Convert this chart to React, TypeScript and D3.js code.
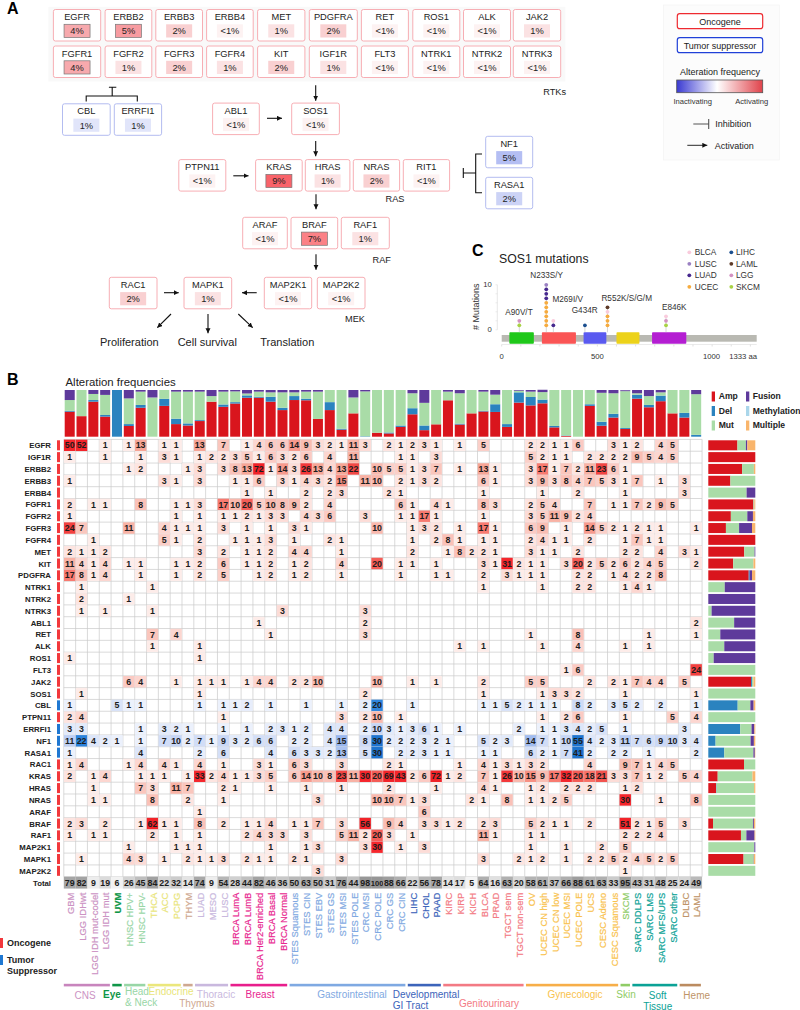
import React from 'react';
import * as d3 from 'd3';

// ---------- Panel B data ----------
const cancers = ['GBM','LGG IDHwt','LGG IDH mut-codel','LGG IDH mut','UVM','HNSC HPV+','HNSC HPV-','THCA','ACC','PCPG','THYM','LUAD','MESO','LUSC','BRCA LumA','BRCA LumB','BRCA Her2-enriched','BRCA Basal','BRCA Normal','STES Squamous','STES CIN','STES EBV','STES GS','STES MSI','STES POLE','CRC MSI','CRC POLE','CRC GS','CRC CIN','LIHC','CHOL','PAAD','KIRC','KIRP','KICH','BLCA','PRAD','TGCT sem','TGCT non-sem','OV','UCEC CN high','UCEC CN low','UCEC MSI','UCEC POLE','UCS','CESC Adeno','CESC Squamous','SKCM','SARC DDLPS','SARC LMS','SARC MFS/UPS','SARC other','DLBC','LAML'];
const totals = [79,82,9,19,6,26,45,84,22,32,14,74,9,54,28,44,82,46,36,50,63,50,31,76,44,98,100,88,66,22,56,78,14,17,5,64,16,63,20,58,61,37,66,88,61,63,33,95,43,31,48,25,24,49];

const topAmp = [.535,.44,.75,.43,0,.23,.62,0,.66,.27,.24,.335,.75,.64,.71,.835,.835,.75,.57,.785,.78,.38,.57,.15,.5,0,.085,.07,.21,.48,.14,.265,.78,.26,.5,.54,.53,.21,.73,.67,.715,.2,.015,0,.66,.235,.41,.165,.815,.63,.76,.5,.41,0];
const topDel = [.02,0,.035,.035,1,.04,.06,0,.15,.115,.045,.02,0,.05,.03,.05,.02,.105,.05,.085,.035,0,.17,.02,0,.01,0,.02,.03,.13,.1,0,0,.02,0,.015,.165,.06,.22,.18,.08,.03,.01,0,.035,.085,.08,.02,.085,.05,.12,0,.1,.04];
const topMut = [.23,.56,.13,.43,0,.55,.285,.84,.19,.58,.68,.61,.12,.275,.23,.04,.11,.095,.33,.08,.15,.585,.26,.83,.34,.96,.915,.91,.76,.32,.485,.735,.185,.65,.5,.41,.205,.73,.035,.115,.16,.77,.975,1,.305,.62,.44,.79,.03,.19,.07,.5,.49,.87];
const topFus = [.215,0,.085,.105,0,.18,.035,.16,0,.035,.035,.035,.13,.035,.03,.075,.035,.05,.05,.05,.035,.035,0,0,.16,.03,0,0,0,.07,.275,0,.035,.07,0,.035,.1,0,.015,.035,.05,0,0,0,0,.06,.07,.02,.07,.13,.05,0,0,.09];

const genes = ['EGFR','IGF1R','ERBB2','ERBB3','ERBB4','FGFR1','FGFR2','FGFR3','FGFR4','MET','KIT','PDGFRA','NTRK1','NTRK2','NTRK3','ABL1','RET','ALK','ROS1','FLT3','JAK2','SOS1','CBL','PTPN11','ERRFI1','NF1','RASA1','RAC1','KRAS','HRAS','NRAS','ARAF','BRAF','RAF1','MAP2K1','MAPK1','MAP2K2'];
const suppressors = ['CBL','ERRFI1','NF1','RASA1'];

// column,count pairs per gene
const EGFR=[0,50,1,52,3,1,5,1,6,13,8,1,9,1,11,13,13,7,15,1,16,4,17,6,18,6,19,14,20,9,21,3,22,2,23,1,24,11,25,3,27,2,28,1,29,2,30,3,31,1,33,1,35,5,39,2,40,2,41,1,42,1,43,6,46,3,47,1,48,2,50,4,51,5];
const IGF1R=[0,1,3,1,6,1,8,3,9,1,11,1,12,2,13,2,14,3,15,5,16,1,17,6,18,3,19,2,20,6,22,4,24,11,28,1,29,1,31,3,39,5,40,2,41,1,42,1,44,2,45,2,46,2,47,2,48,9,49,5,50,4,51,5];
const ERBB2=[5,1,6,2,10,1,11,3,13,3,14,8,15,13,16,72,17,1,18,14,19,3,20,26,21,13,22,4,23,13,24,22,26,10,27,5,28,5,29,1,30,3,31,7,33,1,35,13,36,1,39,3,40,17,41,1,42,7,43,2,44,11,45,23,46,6,47,1];
const ERBB3=[0,1,8,3,9,1,11,3,14,1,15,1,16,6,18,3,19,1,20,4,21,3,22,2,23,15,25,11,26,10,28,2,29,1,30,3,31,2,35,6,36,1,39,3,40,9,41,3,42,8,43,4,44,7,45,5,46,3,47,1,48,7,50,1,52,3];
const ERBB4=[15,1,17,1,20,2,22,2,23,3,27,2,28,1,35,1,40,1,43,2,47,1,52,3];
const FGFR1=[0,2,2,1,3,1,6,8,9,1,10,1,11,3,13,17,14,10,15,20,16,5,17,10,18,8,19,9,20,2,22,4,28,6,29,1,31,4,32,1,35,8,36,3,39,2,40,5,41,4,44,7,46,1,47,1,48,7,49,2,50,9,51,5];
const FGFR2=[0,1,9,1,11,1,13,1,14,1,15,2,16,1,17,3,18,3,20,4,21,3,22,6,25,3,28,1,29,1,30,17,31,1,35,1,39,3,40,5,41,11,42,9,43,2,44,4];
const FGFR3=[0,24,1,7,5,11,8,4,9,1,10,1,11,1,13,3,15,1,17,1,19,3,20,1,26,10,29,1,30,3,31,2,33,1,35,17,36,1,39,6,40,9,42,1,44,14,45,5,46,2,47,1,48,2,49,1,50,1,53,1];
const FGFR4=[2,1,8,5,9,1,11,2,14,1,15,1,16,1,17,3,19,1,22,2,23,1,29,1,31,2,32,8,33,1,35,1,36,1,39,2,40,4,41,1,42,1,44,2,47,1,48,7,49,1,50,1];
const MET=[0,2,1,1,2,1,3,2,11,3,13,2,15,1,16,1,17,2,19,4,20,4,23,1,29,2,32,1,33,8,34,2,35,2,36,1,39,3,40,1,41,1,43,2,47,2,48,2,50,4,52,3,53,1];
const KIT=[0,11,1,4,2,1,3,4,5,1,6,1,9,1,10,1,11,2,13,6,15,1,16,1,17,2,19,1,20,2,23,4,26,20,28,1,29,1,31,1,35,3,36,1,37,31,38,2,39,1,40,1,42,3,43,20,44,2,45,5,46,2,47,6,48,2,49,4,50,5,53,2];
const PDGFRA=[0,17,1,8,2,1,3,4,6,1,9,1,11,2,13,5,16,1,17,2,19,1,20,2,23,1,28,1,31,1,32,1,35,2,37,3,38,1,39,1,40,1,43,2,44,2,46,1,47,4,48,2,49,2,50,8];
const NTRK1=[1,1,7,1,35,1,40,1,43,2,44,2,47,1,48,4,49,1];
const NTRK2=[1,2,5,1];
const NTRK3=[1,1,3,1,7,1,18,3,25,3];
const ABL1=[16,1,25,2,53,2];
const RET=[7,7,9,4,17,1,25,3,39,1,43,8,49,1,53,1];
const ALK=[7,1,11,1,33,1,35,1,40,1,43,4,47,1,49,1];
const ROS1=[0,1,11,1];
const FLT3=[42,1,43,6,53,24];
const JAK2=[5,6,6,4,9,1,11,1,12,1,13,1,15,1,16,4,17,4,19,2,20,2,21,10,26,10,29,1,31,1,35,2,39,5,40,5,44,2,46,2,47,1,48,7,49,4,50,4,52,5];
const SOS1=[1,1,11,1,25,2,35,1,40,1,41,3,42,3,43,2,47,1,53,1];
const CBL=[0,1,4,5,5,1,6,1,11,1,13,1,14,1,15,2,17,1,20,1,23,1,25,2,26,20,29,1,35,1,36,1,37,5,38,2,39,1,40,1,41,1,43,8,44,2,46,3,47,5,48,2,50,2,53,1];
const PTPN11=[0,2,1,4,13,1,23,3,25,2,26,10,28,1,40,1,42,2,43,6,47,1,51,5,53,4];
const ERRFI1=[0,3,1,3,6,1,8,3,9,2,10,1,13,1,15,1,17,2,18,3,19,1,20,2,22,4,23,4,25,2,26,10,27,3,28,1,29,3,30,6,31,1,33,1,38,2,40,1,41,1,42,3,43,4,44,2,45,5,47,1,52,3];
const NF1=[0,11,1,22,2,4,3,2,4,1,6,1,8,7,9,10,10,2,11,7,12,1,13,9,14,3,15,2,16,6,17,6,19,2,20,2,22,4,23,15,25,8,26,30,27,2,28,2,29,2,30,3,31,2,32,1,35,5,36,2,37,3,39,14,40,7,41,1,42,10,43,55,44,4,45,2,46,3,47,11,48,7,49,6,50,9,51,10,52,3,53,4];
const RASA1=[0,1,6,4,11,2,13,6,17,4,19,6,20,3,21,3,22,2,23,13,25,5,26,30,28,2,29,2,30,3,31,1,32,1,35,1,36,1,39,6,40,2,41,1,42,7,43,41,44,2,46,2,47,2,49,1,53,2];
const RAC1=[0,1,1,4,5,1,6,4,8,4,9,1,11,4,13,1,16,3,17,1,19,6,20,3,23,3,27,2,28,1,33,1,35,4,36,1,37,3,38,1,39,3,40,2,44,4,47,9,48,7,49,1,50,4,51,5];
const KRAS=[0,2,2,1,3,4,6,1,7,1,8,1,10,1,11,33,12,2,13,4,14,1,15,1,16,3,17,5,19,6,20,14,21,10,22,8,23,23,24,11,25,30,26,20,27,69,28,43,29,2,30,6,31,72,32,1,33,2,35,7,36,1,37,26,38,10,39,15,40,9,41,17,42,32,43,20,44,18,45,21,46,3,47,3,48,7,49,1,50,2,52,5,53,4];
const HRAS=[2,1,6,7,7,3,9,11,10,7,13,2,14,1,17,1,20,1,23,1,27,2,31,1,35,4,36,1,39,1,40,2,42,2,43,2,44,2,47,1,48,2];
const NRAS=[2,1,3,1,7,8,10,2,13,1,21,3,26,10,27,10,28,7,29,1,30,3,34,2,35,1,37,8,39,1,40,1,41,2,42,5,47,30,50,1,53,8];
const ARAF=[11,1,30,6];
const BRAF=[0,2,1,3,3,2,6,1,7,62,8,1,9,1,11,8,13,2,15,1,16,1,17,4,19,1,20,1,21,7,23,3,25,56,27,9,28,4,30,3,31,3,32,1,33,2,35,2,36,3,39,5,40,2,41,1,42,1,44,2,47,51,48,2,49,1,50,5,52,3];
const RAF1=[0,1,2,1,3,1,7,2,9,1,11,1,15,2,16,4,17,3,18,3,20,3,23,5,24,11,25,2,26,20,27,3,29,1,35,11,36,1,39,1,40,1,47,2,48,2,49,2,50,4];
const MAP2K1=[5,1,9,1,10,1,11,1,17,1,20,1,21,3,25,3,26,30,28,1,30,3,39,1,42,1,45,2,47,5];
const MAPK1=[1,1,5,4,6,3,8,1,10,2,11,1,12,1,13,3,15,2,16,1,17,1,19,2,20,1,23,3,35,3,38,2,39,1,40,2,42,1,44,2,45,2,46,5,47,2,48,4,49,5,50,2,51,5];
const MAP2K2=[21,3,47,1];
const geneRows: Record<string, number[]> = {EGFR,IGF1R,ERBB2,ERBB3,ERBB4,FGFR1,FGFR2,FGFR3,FGFR4,MET,KIT,PDGFRA,NTRK1,NTRK2,NTRK3,ABL1,RET,ALK,ROS1,FLT3,JAK2,SOS1,CBL,PTPN11,ERRFI1,NF1,RASA1,RAC1,KRAS,HRAS,NRAS,ARAF,BRAF,RAF1,MAP2K1,MAPK1,MAP2K2};

// right-hand stacked bars, in gene order
const rightAmp = [.62,1,.72,.47,0,.96,.48,.375,1,.765,.53,.86,0,0,0,0,0,0,0,0,.91,0,0,0,0,0,0,.76,.2,.165,0,0,.1,.695,0,.75,0];
const rightDel = [0,0,0,0,0,0,0,0,0,0,0,.02,0,0,0,0,0,0,0,0,.02,0,.625,0,.68,.155,.34,0,0,.01,0,0,0,0,0,0,0];
const rightMut = [.18,0,.25,.53,.815,.02,.35,.28,0,.22,.43,0,.35,0,.07,.55,.255,.34,.115,1,.03,1,.27,1,.24,.745,.62,.24,.74,.8,1,1,.85,.115,.98,.215,1];
const rightFus = [.03,0,0,0,.185,0,.12,.275,0,.015,0,.05,.65,1,.93,.45,.745,.66,.885,0,0,0,.07,0,.06,.07,.03,0,0,0,0,0,.02,.175,.02,.005,0];
const rightMul = [.17,0,.03,0,0,.02,.05,.07,0,0,.04,.07,0,0,0,0,0,0,0,0,.04,0,.035,0,.02,.03,.01,0,.06,.025,0,0,.03,.015,0,.03,0];

const groups = [
  {name:['CNS'],from:0,to:3,color:'#c885bd',label:'#cc93c4'},
  {name:['Eye'],from:4,to:4,color:'#0f9648',label:'#0f9648'},
  {name:['Head','& Neck'],from:5,to:6,color:'#98d6a6',label:'#98d6a6'},
  {name:['Endocrine'],from:7,to:9,color:'#ebe77c',label:'#e9e57a'},
  {name:['Thymus'],from:10,to:10,color:'#cfa890',label:'#cfa890'},
  {name:['Thoracic'],from:11,to:13,color:'#c9b8de',label:'#c9b8de'},
  {name:['Breast'],from:14,to:18,color:'#e81e8c',label:'#e8268f'},
  {name:['Gastrointestinal'],from:19,to:28,color:'#7fa9e2',label:'#7fa9e2'},
  {name:['Developmental','GI Tract'],from:29,to:31,color:'#3c64ba',label:'#3c64ba'},
  {name:['Genitourinary'],from:32,to:38,color:'#f37a84',label:'#f37a84'},
  {name:['Gynecologic'],from:39,to:46,color:'#f7ae48',label:'#f9c24c'},
  {name:['Skin'],from:47,to:47,color:'#8fcc66',label:'#8fcc66'},
  {name:['Soft','Tissue'],from:48,to:51,color:'#0ba296',label:'#0ba296'},
  {name:['Heme'],from:52,to:53,color:'#bb8b60',label:'#c09468'},
];
const groupLabelX = [85,112,125,171,197,216,260,352,392.7,489,575,626,657.7,696.7];
const groupLabelY = [[999],[997.5],[995,1006],[995],[1006.5],[997.5],[997.5],[997.5],[997.5,1008.5],[1007],[997.5],[997.5],[999,1010],[999]];

// ---------- Panel A data ----------
const pathwayPct: [string,string,number][] = [
 ['EGFR','4%',4],['ERBB2','5%',5],['ERBB3','2%',2],['ERBB4','<1%',.5],['MET','1%',1],['PDGFRA','2%',2],['RET','<1%',.5],['ROS1','<1%',.5],['ALK','<1%',.5],['JAK2','1%',1],
 ['FGFR1','4%',4],['FGFR2','1%',1],['FGFR3','2%',2],['FGFR4','1%',1],['KIT','2%',2],['IGF1R','1%',1],['FLT3','<1%',.5],['NTRK1','<1%',.5],['NTRK2','<1%',.5],['NTRK3','<1%',.5],
 ['CBL','1%',1],['ERRFI1','1%',1],['ABL1','<1%',.5],['SOS1','<1%',.5],['PTPN11','<1%',.5],['KRAS','9%',9],['HRAS','1%',1],['NRAS','2%',2],['RIT1','<1%',.5],['NF1','5%',5],['RASA1','2%',2],
 ['ARAF','<1%',.5],['BRAF','7%',7],['RAF1','1%',1],['RAC1','2%',2],['MAPK1','1%',1],['MAP2K1','<1%',.5],['MAP2K2','<1%',.5],
];
const boxLayout: Record<string,number[]> = {
 EGFR:[53.4,100.7,9.5],ERBB2:[105.1,151.8,9.5],ERBB3:[155.8,202.5,9.5],ERBB4:[206.6,253.2,9.5],MET:[257.6,304.9,9.5],PDGFRA:[309.3,357.3,9.5],RET:[361.4,408.4,9.5],ROS1:[412.8,459.8,9.5],ALK:[463.5,510.5,9.5],JAK2:[513.3,560.7,9.5],
 FGFR1:[53.4,100.7,46],FGFR2:[105.1,151.8,46],FGFR3:[155.8,202.5,46],FGFR4:[206.6,253.2,46],KIT:[257.6,304.9,46],IGF1R:[309.3,357.3,46],FLT3:[361.4,408.4,46],NTRK1:[412.8,459.8,46],NTRK2:[463.5,510.5,46],NTRK3:[513.3,560.7,46],
 CBL:[62.5,110.2,103.8],ERRFI1:[114.3,161.6,103.8],ABL1:[212.6,259.3,103.1],SOS1:[291.7,339.4,103.1],
 PTPN11:[178.8,225.8,159.6],KRAS:[255.6,302.2,159.6],HRAS:[305.3,349.9,159.6],NRAS:[353.3,399.6,159.6],RIT1:[403.3,449.6,159.6],
 NF1:[485.7,532.7,136.3],RASA1:[485.7,532.7,177.3],
 ARAF:[242.7,287.3,217.3],BRAF:[291,337.7,217.3],RAF1:[341.3,389.3,217.3],
 RAC1:[109.3,157,277.3],MAPK1:[184,231.7,277.3],MAP2K1:[264.3,311.7,277.3],MAP2K2:[317.3,365,277.3],
};
const arrows = [[315.7,85.2,315.7,100.7],[315.7,141,315.7,156.2],[267,118.3,282,118.3],[233.3,175.8,248.5,175.8],[316,194.3,316,209.3],[316,254.3,316,269.7],[164,292.7,178.7,292.7],[256.7,292.7,242,292.7],[171,314,157.3,327.7],[208,314,208,333.3],[238.3,314,252.7,327.7]];
const pathwayNotes: [string,number,number,number][] = [['RTKs',554.7,92,9.2],['RAS',395,199,9.2],['RAF',381.7,259.3,9.2],['MEK',355,318.7,9.2],['Proliferation',129.3,342.3,11],['Cell survival',207.3,342.3,11],['Translation',287.3,342.3,11]];

// ---------- Panel C data ----------
const domains: [number,number,string][] = [[40,168,'#1fc81a'],[210,388,'#fa5555'],[428,547,'#5a5af0'],[600,720,'#ecd21a'],[786,965,'#b41ed2']];
const lolliCancers: Record<string,string> = {BLCA:'#f9cbdc',LUSC:'#9a80c2',LUAD:'#46288e',UCEC:'#f6ab3e',LIHC:'#1b4f8f',LAML:'#5d3a28',LGG:'#d392c2',SKCM:'#a9d244'};
const lollipops: {aa:number,label:string,lx:number,ly:number,stack:string[]}[] = [
 {aa:92,label:'A90V/T',lx:519,ly:311.7,stack:['SKCM','LGG']},
 {aa:233,label:'N233S/Y',lx:546.7,ly:275.3,stack:['UCEC','UCEC','UCEC','UCEC','UCEC','UCEC','LUAD','LUAD','LUAD','LUSC']},
 {aa:270,label:'M269I/V',lx:567.7,ly:299,stack:['LUAD','BLCA']},
 {aa:435,label:'G434R',lx:584.7,ly:310.3,stack:['LIHC']},
 {aa:553,label:'R552K/S/G/M',lx:626.7,ly:298,stack:['UCEC','UCEC','UCEC','BLCA','LAML']},
 {aa:859,label:'E846K',lx:674.3,ly:307.3,stack:['SKCM','LGG','BLCA']},
];
const lolliLegendL = ['BLCA','LUSC','LUAD','UCEC'];
const lolliLegendR = ['LIHC','LAML','LGG','SKCM'];
const aaTicks: [number,string,number][] = [[0,'0',0],[500,'500',0],[1000,'1000',18.5],[1333,'1333 aa',-13.5]];

// ---------- Scales and styles ----------
const FONT = "'Liberation Sans', Arial, sans-serif";
const CELL = 11.82;
const x0 = 63.8;
const colX = d3.scaleLinear().domain([0, 54]).range([x0, x0 + CELL * 54]);
const rowY = d3.scaleLinear().domain([0, 38]).range([439.4, 439.4 + CELL * 38]);
const topY = d3.scaleLinear().domain([0, 1]).range([436.7, 390]);
const rightX = d3.scaleLinear().domain([0, 1]).range([708.3, 755.3]);
const redScale = d3.scaleLinear<string>().domain([1,3,5,10,13,17,22,30,100]).range(['#fdece9','#fcdcd7','#fbcfc8','#f9b8ad','#f6a596','#f87a70','#f14845','#f5262c','#ee2026']);
const blueScale = d3.scaleLinear<string>().domain([1,5,10,15,20,30,100]).range(['#ecf1fc','#d8e2f8','#c6d5f5','#98b6ee','#2f86de','#1e74cf','#1e74cf']);
const totalScale = d3.scaleLinear<string>().domain([5,20,50,100]).range(['#f4f4f4','#d9d9d9','#b9b9b9','#969696']);
const redPct = d3.scaleLinear<string>().domain([.5,1,2,4,5,7,9]).range(['#fdf2f2','#fbe2e3','#f9d0d1','#f7a9ad','#f79ba0','#fb8186','#f9636a']);
const bluePct = d3.scaleLinear<string>().domain([1,2,5]).range(['#e1e5fa','#ccd3f6','#b4bef3']);
const segColors = {amp:'#d9151d',del:'#2b83bf',mut:'#a9dca7',fus:'#5e3a9b',mul:'#f9b56c',meth:'#aad6ea'};
const topKeys = ['amp','del','mut','fus'];
const topStack = d3.stack().keys(topKeys)(cancers.map((_, i) => ({amp:topAmp[i],del:topDel[i],mut:topMut[i],fus:topFus[i]})) as any);
const rightKeys = ['amp','del','mut','fus','mul'];
const rightStack = d3.stack().keys(rightKeys)(genes.map((_, i) => ({amp:rightAmp[i],del:rightDel[i],mut:rightMut[i],fus:rightFus[i],mul:rightMul[i]})) as any);
const lolliX = d3.scaleLinear().domain([0, 1333]).range([501.7, 756.7]);
const lolliY = d3.scaleLinear().domain([0, 10]).range([329.8, 284.8]);
const pctByName = new Map(pathwayPct.map(p => [p[0], p]));
const blueBoxes = ['CBL','ERRFI1','NF1','RASA1'];

function Box({name}: {name: string}) {
  const [a, b, y] = boxLayout[name];
  const p = pctByName.get(name)!;
  const blue = blueBoxes.includes(name);
  const cx = (a + b) / 2;
  const strong = !blue && p[2] >= 4;
  return (
    <g fontFamily={FONT} fontSize={9.3} fill="#222" textAnchor="middle">
      <rect x={a} y={y} width={b - a} height={31.5} rx={2} fill="#fff" stroke={blue ? '#aab4ee' : '#f6a5ab'} strokeWidth={0.9} />
      <text x={cx} y={y + 10.6}>{name}</text>
      <rect x={cx - 13} y={y + 14.8} width={26} height={13.2} fill={blue ? bluePct(p[2]) : redPct(p[2])} stroke={strong ? '#777' : 'none'} strokeWidth={0.7} />
      <text x={cx} y={y + 24.8}>{p[1]}</text>
    </g>
  );
}

export default function App() {
  const labelText = (t: string, x: number, y: number, size: number, extra: any = {}) => (
    <text key={t + x + y} x={x} y={y} fontSize={size} fontFamily={FONT} fill="#222" {...extra}>{t}</text>
  );
  return (
    <svg width={800} height={1010} viewBox="0 0 800 1010" style={{position:'absolute',left:0,top:0,background:'#fff'}}>
      <defs>
        <marker id="ah" markerUnits="userSpaceOnUse" markerWidth={6} markerHeight={6} refX={5} refY={2.5} orient="auto">
          <path d="M0,0 L5,2.5 L0,5 z" fill="#111" />
        </marker>
        <linearGradient id="freq" x1="0" x2="1" y1="0" y2="0">
          <stop offset="0" stopColor="#3a3ad2" />
          <stop offset="0.47" stopColor="#fff" />
          <stop offset="1" stopColor="#e0424a" />
        </linearGradient>
      </defs>

      {/* Panel A */}
      {labelText('A', 7, 14, 16, {fontWeight:'bold',fill:'#000'})}
      <rect x={48.3} y={6.8} width={517} height={74.7} fill="#f9f9f9" />
      {pathwayPct.map(p => <Box key={p[0]} name={p[0]} />)}
      {arrows.map((a, i) => <line key={i} x1={a[0]} y1={a[1]} x2={a[2]} y2={a[3]} stroke="#111" strokeWidth={1.1} markerEnd="url(#ah)" />)}
      <path d="M108.9,87.2 H116.3 M112.2,87.2 V96 M86.2,101.4 V96 H137.3 V101.4" fill="none" stroke="#111" strokeWidth={1.1} />
      <path d="M482,154 H475.7 V192.7 H482 M475.7,173 H463.3 M463.3,168 V178" fill="none" stroke="#111" strokeWidth={1.1} />
      {pathwayNotes.map(n => labelText(n[0], n[1], n[2] + n[3] * 0.36, n[3], {textAnchor:'middle'}))}

      {/* Legend */}
      <rect x={663.3} y={5} width={116} height={155} fill="#fcfcfc" stroke="#f3f3f3" strokeWidth={0.7} />
      <rect x={677.3} y={13.7} width={85.4} height={15} rx={2.5} fill="#fff" stroke="#ee2a30" strokeWidth={1.2} />
      <rect x={677.3} y={37.7} width={85.4} height={15} rx={2.5} fill="#fff" stroke="#2040d8" strokeWidth={1.2} />
      {labelText('Oncogene', 720, 25, 9, {textAnchor:'middle'})}
      {labelText('Tumor suppressor', 720, 49, 9, {textAnchor:'middle'})}
      {labelText('Alteration frequency', 720, 75, 9, {textAnchor:'middle'})}
      <rect x={676.7} y={80} width={86} height={12.7} fill="url(#freq)" stroke="#555" strokeWidth={0.8} />
      {labelText('Inactivating', 692.7, 104, 7.6, {textAnchor:'middle',fill:'#333'})}
      {labelText('Activating', 751.7, 104, 7.6, {textAnchor:'middle',fill:'#333'})}
      <path d="M693.3,124 H708.7 M708.7,119 V129" stroke="#555" strokeWidth={1.1} fill="none" />
      {labelText('Inhibition', 715.3, 127.3, 9)}
      <line x1={687.3} y1={145.3} x2={707.3} y2={145.3} stroke="#111" strokeWidth={0.9} markerEnd="url(#ah)" />
      {labelText('Activation', 714.7, 148.6, 9)}

      {/* Panel C */}
      {labelText('C', 472, 256, 16, {fontWeight:'bold',fill:'#000'})}
      {labelText('SOS1 mutations', 499, 262.6, 12.3)}
      <text transform="translate(479,306.7) rotate(-90)" fontFamily={FONT} fontSize={9} textAnchor="middle" fill="#333"># Mutations</text>
      {[0,10].map(v => labelText(String(v), 491.7, lolliY(v) + 2.6, 7.7, {textAnchor:'end',fill:'#333'}))}
      <line x1={497.3} x2={497.3} y1={lolliY(10)} y2={lolliY(0)} stroke="#ddd" strokeWidth={0.7} />
      {d3.range(0, 11, 2).map(v => <line key={v} x1={495.5} x2={497.3} y1={lolliY(v)} y2={lolliY(v)} stroke="#ddd" strokeWidth={0.6} />)}
      {d3.range(0, 1334, 100).map(v => <line key={v} x1={lolliX(v)} x2={lolliX(v)} y1={344.5} y2={346.5} stroke="#ccc" strokeWidth={0.6} />)}
      <line x1={lolliX(0)} x2={lolliX(1333)} y1={344.5} y2={344.5} stroke="#ddd" strokeWidth={0.6} />
      {aaTicks.map(t => labelText(t[1], lolliX(t[0]) + t[2], 358.5, 7.7, {textAnchor:'middle',fill:'#333'}))}
      <rect x={lolliX(0)} y={335} width={lolliX(1333) - lolliX(0)} height={6.7} fill="#b9b9b2" />
      {domains.map((d, i) => <rect key={i} x={lolliX(d[0])} y={332.3} width={lolliX(d[1]) - lolliX(d[0])} height={11.4} rx={0.8} fill={d[2]} />)}
      {lollipops.map(l => (
        <g key={l.label}>
          <line x1={lolliX(l.aa)} x2={lolliX(l.aa)} y1={332.3} y2={lolliY(l.stack.length)} stroke="#bbb" strokeWidth={0.6} />
          {l.stack.map((c, i) => <circle key={i} cx={lolliX(l.aa)} cy={lolliY(i + 1)} r={1.9} fill={lolliCancers[c]} />)}
          {labelText(l.label, l.lx, l.ly + 3, 8.2, {textAnchor:'middle',fill:'#333'})}
        </g>
      ))}
      {lolliLegendL.map((c, i) => (
        <g key={c}>
          <circle cx={689.3} cy={252.3 + i * 11.5} r={1.9} fill={lolliCancers[c]} />
          {labelText(c, 694.7, 255.2 + i * 11.5, 8.3, {fill:'#333'})}
        </g>
      ))}
      {lolliLegendR.map((c, i) => (
        <g key={c}>
          <circle cx={731.3} cy={252.3 + i * 11.5} r={1.9} fill={lolliCancers[c]} />
          {labelText(c, 736, 255.2 + i * 11.5, 8.3, {fill:'#333'})}
        </g>
      ))}

      {/* Panel B */}
      {labelText('B', 7, 385, 16, {fontWeight:'bold',fill:'#000'})}
      {labelText('Alteration frequencies', 65.5, 385.7, 11.4)}
      {topStack.map(s => (
        <g key={s.key} fill={(segColors as any)[s.key]}>
          {s.map((d, i) => d[1] > d[0] ? <rect key={i} x={colX(i) + 0.9} width={CELL - 1.8} y={topY(d[1])} height={topY(d[0]) - topY(d[1])} /> : null)}
        </g>
      ))}
      {/* Grid */}
      <g stroke="#cacaca" strokeWidth={0.7}>
        {d3.range(0, 38).map(r => <line key={r} x1={colX(0)} x2={colX(54)} y1={rowY(r)} y2={rowY(r)} />)}
        {d3.range(0, 55).map(c => <line key={c} x1={colX(c)} x2={colX(c)} y1={rowY(0)} y2={rowY(37)} />)}
      </g>
      {genes.map((g, r) => {
        const pairs = geneRows[g];
        const isSup = suppressors.includes(g);
        const cells = d3.range(0, pairs.length, 2).map(k => ({c: pairs[k], v: pairs[k + 1]}));
        return (
          <g key={g}>
            <rect x={57} y={rowY(r) + 0.9} width={3} height={CELL - 1.8} fill={isSup ? '#1f78d2' : '#f2383c'} />
            <text x={51} y={rowY(r) + 8.9} fontFamily={FONT} fontSize={7.8} fontWeight="bold" textAnchor="end" fill="#222">{g}</text>
            {cells.map(d => <rect key={d.c} x={colX(d.c) + 0.2} y={rowY(r) + 0.2} width={CELL - 0.4} height={CELL - 0.4} fill={isSup ? blueScale(d.v) : redScale(d.v)} />)}
            {cells.map(d => <text key={d.c} x={colX(d.c) + CELL / 2} y={rowY(r) + 9} fontFamily={FONT} fontSize={8.8} fontWeight="bold" textAnchor="middle" fill="#1c1c1c">{d.v}</text>)}
          </g>
        );
      })}
      {/* Total */}
      <text x={51} y={rowY(37) + 8.9} fontFamily={FONT} fontSize={7.8} fontWeight="bold" textAnchor="end" fill="#222">Total</text>
      {totals.map((v, c) => (
        <g key={c}>
          <rect x={colX(c)} y={rowY(37)} width={CELL} height={CELL} fill={totalScale(v)} />
          <text x={colX(c) + CELL / 2} y={rowY(37) + 9} fontFamily={FONT} fontSize={v >= 100 ? 7.6 : 8.8} fontWeight="bold" textAnchor="middle" fill="#1c1c1c">{v}</text>
        </g>
      ))}
      {/* Right bars */}
      {rightStack.map(s => (
        <g key={s.key} fill={(segColors as any)[s.key]}>
          {s.map((d, i) => d[1] > d[0] ? <rect key={i} x={rightX(d[0])} width={rightX(d[1]) - rightX(d[0])} y={rowY(i) + 0.9} height={CELL - 1.8} /> : null)}
        </g>
      ))}
      {/* B legend */}
      {[['Amp','amp',0],['Del','del',1],['Mut','mut',2]].map(([t, k, i]: any) => (
        <g key={t}>
          <rect x={711.7} y={391.5 + i * 14.5} width={3.3} height={10} fill={(segColors as any)[k]} />
          {labelText(t, 718.7, 399 + i * 14.5, 8.6, {fontWeight:'bold'})}
        </g>
      ))}
      {[['Fusion','fus',0],['Methylation','meth',1],['Multiple','mul',2]].map(([t, k, i]: any) => (
        <g key={t}>
          <rect x={746} y={391.5 + i * 14.5} width={3.3} height={10} fill={(segColors as any)[k]} />
          {labelText(t, 752.7, 399 + i * 14.5, 8.6, {fontWeight:'bold'})}
        </g>
      ))}
      {/* Cancer labels */}
      {cancers.map((c, i) => {
        const g = groups.find(gr => i >= gr.from && i <= gr.to)!;
        return <text key={c} transform={`translate(${colX(i) + CELL / 2 + 4.2},892.7) rotate(-90)`} textAnchor="end" fontFamily={FONT} fontSize={9.4} fontWeight={c === 'UVM' ? 'bold' : 'normal'} fill={g.label} stroke={g.label} strokeWidth={0.2}>{c}</text>;
      })}
      {/* Group bars */}
      {groups.map((g, i) => (
        <g key={g.name[0]}>
          <rect x={colX(g.from) + (i === 0 ? 0 : 1.2)} y={983.8} width={colX(g.to + 1) - colX(g.from) - (i === 0 ? 1.2 : 2.4)} height={2.6} fill={g.color} />
          {g.name.map((t, k) => labelText(t, groupLabelX[i], groupLabelY[i][k], 10, {textAnchor: g.name[0] === 'Head' || g.name[0] === 'Developmental' ? 'start' : 'middle', fill:g.label, fontWeight: g.name[0]==='Eye' ? 'bold' : 'normal'}))}
        </g>
      ))}
      {/* Side legend */}
      <rect x={0} y={938} width={3} height={10} fill="#f2383c" />
      <rect x={0} y={955} width={3} height={10} fill="#1f78d2" />
      {labelText('Oncogene', 7, 946, 9, {fontWeight:'bold'})}
      {labelText('Tumor', 7, 963, 9, {fontWeight:'bold'})}
      {labelText('Suppressor', 7, 974, 9, {fontWeight:'bold'})}
    </svg>
  );
}
